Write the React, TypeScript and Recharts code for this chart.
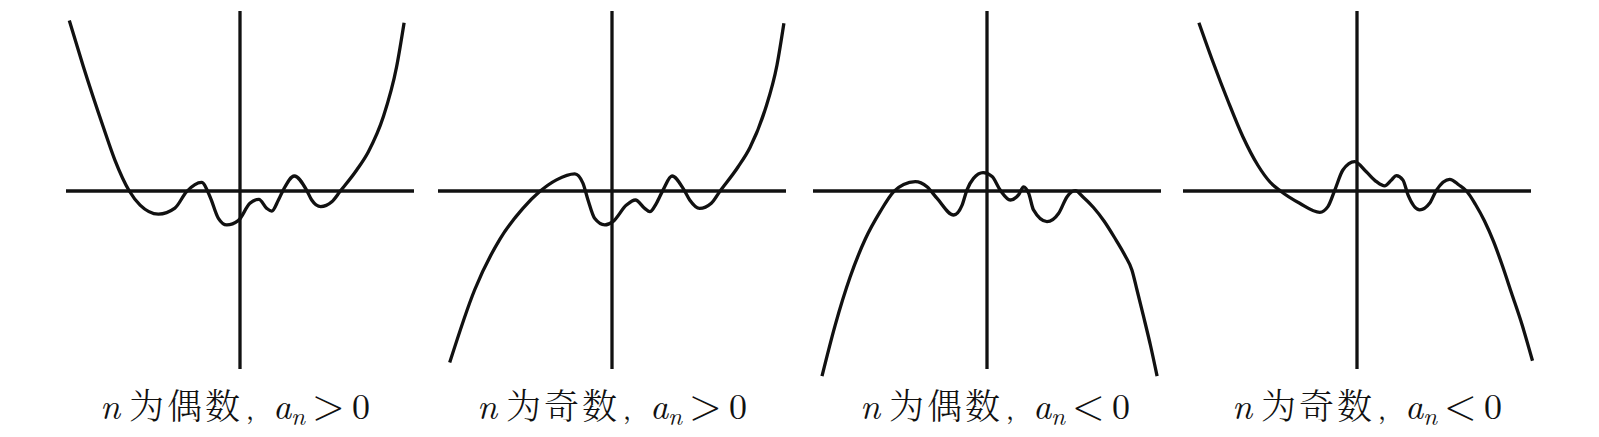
import React from 'react'
import { LineChart, Line, XAxis, YAxis, ReferenceLine } from 'recharts'

// curve samples, x/y in plot units (1 unit = 30px)
const evenPosX = [-5.69, -5.22, -4.56, -4.17, -3.69, -3.33, -2.72, -2.17, -1.78, -1.28, -1.0, -0.72, -0.44, -0.06, 0.33, 0.63, 0.89, 1.06, 1.28, 1.44, 1.81, 2.22, 2.39, 2.69, 3.06, 3.33, 3.89, 4.28, 4.78, 5.22, 5.47]
const evenPosY = [5.68, 4.14, 2.14, 1.03, 0, -0.47, -0.77, -0.57, -0.02, 0.29, -0.19, -0.91, -1.13, -0.99, -0.41, -0.28, -0.58, -0.67, -0.3, 0.03, 0.5, 0.03, -0.3, -0.52, -0.36, -0.02, 0.7, 1.31, 2.48, 4.14, 5.61]

const oddPosX = [-5.41, -4.58, -3.74, -2.97, -2.41, -1.85, -1.24, -0.97, -0.8, -0.58, -0.24, 0.03, 0.48, 0.78, 1.09, 1.26, 1.48, 1.7, 2.0, 2.37, 2.59, 2.92, 3.31, 3.59, 4.2, 4.6, 5.1, 5.5, 5.73]
const oddPosY = [-5.72, -3.3, -1.61, -0.58, -0.02, 0.37, 0.57, 0.26, -0.3, -0.91, -1.13, -1.02, -0.47, -0.3, -0.58, -0.69, -0.41, 0.03, 0.5, 0.09, -0.3, -0.58, -0.41, -0.02, 0.8, 1.45, 2.7, 4.2, 5.59]

const evenNegX = [-5.5, -5.06, -4.56, -4.06, -3.56, -3.11, -2.78, -2.39, -2.0, -1.67, -1.11, -0.83, -0.67, -0.45, -0.13, 0.17, 0.44, 0.78, 1.05, 1.22, 1.39, 1.55, 2.0, 2.39, 2.67, 2.94, 3.2, 3.55, 3.9, 4.25, 4.6, 4.83, 5.0, 5.22, 5.45, 5.67]
const evenNegY = [-6.17, -4.47, -2.86, -1.61, -0.69, -0.02, 0.22, 0.31, 0.14, -0.24, -0.8, -0.47, 0.03, 0.42, 0.61, 0.48, 0.03, -0.3, -0.13, 0.14, -0.08, -0.63, -1.02, -0.74, -0.19, 0.01, -0.2, -0.55, -1.0, -1.55, -2.15, -2.63, -3.3, -4.19, -5.15, -6.17]

const oddNegX = [-5.27, -4.8, -4.3, -3.8, -3.3, -2.9, -2.55, -1.91, -1.24, -0.97, -0.74, -0.47, -0.08, 0.31, 0.65, 0.92, 1.15, 1.31, 1.53, 1.7, 2.09, 2.42, 2.65, 3.09, 3.4, 3.65, 3.95, 4.25, 4.55, 4.85, 5.15, 5.5, 5.85]
const oddNegY = [5.61, 4.3, 3.0, 1.8, 0.85, 0.3, 0, -0.41, -0.71, -0.52, 0.03, 0.7, 0.98, 0.64, 0.31, 0.17, 0.37, 0.51, 0.37, -0.13, -0.63, -0.41, 0.03, 0.39, 0.2, 0, -0.45, -1.0, -1.68, -2.5, -3.4, -4.45, -5.66]

const parity = ['偶', '奇', '偶', '奇']
const signs = ['>', '>', '<', '<']

const panels = [
  { xs: evenPosX, ys: evenPosY, axisX: 240, captionX: 100 },
  { xs: oddPosX, ys: oddPosY, axisX: 612.3, captionX: 477 },
  { xs: evenNegX, ys: evenNegY, axisX: 986.7, captionX: 860 },
  { xs: oddNegX, ys: oddNegY, axisX: 1357.3, captionX: 1232 },
]

const ink = '#111'
const unit = 30
const axisY = 191
const lineW = 3.3

function Panel({ xs, ys, axisX }: { xs: number[]; ys: number[]; axisX: number }) {
  const data = xs.map((x, i) => ({ x, y: ys[i] }))
  return (
    <div style={{ position: 'absolute', left: axisX - 6 * unit, top: axisY - 6 * unit }}>
      <LineChart width={12 * unit} height={12.5 * unit} data={data} margin={{ top: 0, right: 0, bottom: 0, left: 0 }}>
        <XAxis type="number" dataKey="x" domain={[-6, 6]} hide />
        <YAxis type="number" domain={[-6.5, 6]} hide />
        <ReferenceLine segment={[{ x: -5.8, y: 0 }, { x: 5.8, y: 0 }]} stroke={ink} strokeWidth={lineW} />
        <ReferenceLine segment={[{ x: 0, y: -5.93 }, { x: 0, y: 6 }]} stroke={ink} strokeWidth={lineW} />
        <Line type="monotone" dataKey="y" stroke={ink} strokeWidth={lineW} dot={false} isAnimationActive={false} />
      </LineChart>
    </div>
  )
}

export default function App() {
  const latin = "'Latin Modern Roman', 'Liberation Serif', serif"
  const cjk = "'Noto Serif CJK SC', 'Noto Sans CJK SC', sans-serif"
  const base = 419
  return (
    <div style={{ position: 'absolute', left: 0, top: 0, width: 1599, height: 437, background: '#fff' }}>
      {panels.map((p, i) => (
        <Panel key={i} xs={p.xs} ys={p.ys} axisX={p.axisX} />
      ))}
      <svg width={1599} height={437} style={{ position: 'absolute', left: 0, top: 0 }}>
        {panels.map((p, i) => (
          <text key={i} y={base} fill={ink}>
            <tspan x={p.captionX} fontFamily={latin} fontStyle="italic" fontSize={36}>n</tspan>
            <tspan x={p.captionX + 29} fontFamily={cjk} fontWeight={300} fontSize={35} letterSpacing={3}>{`为${parity[i]}数`}</tspan>
            <tspan x={p.captionX + 146} fontFamily={cjk} fontWeight={300} fontSize={25}>，</tspan>
            <tspan x={p.captionX + 173} fontFamily={latin} fontStyle="italic" fontSize={36}>a</tspan>
            <tspan x={p.captionX + 191} fontFamily={latin} fontStyle="italic" fontSize={25} dy={6}>n</tspan>
            <tspan x={p.captionX + 212} fontFamily={latin} fontSize={42} dy={-6}>{signs[i]}</tspan>
            <tspan x={p.captionX + 252} fontFamily={latin} fontSize={36}>0</tspan>
          </text>
        ))}
      </svg>
    </div>
  )
}
